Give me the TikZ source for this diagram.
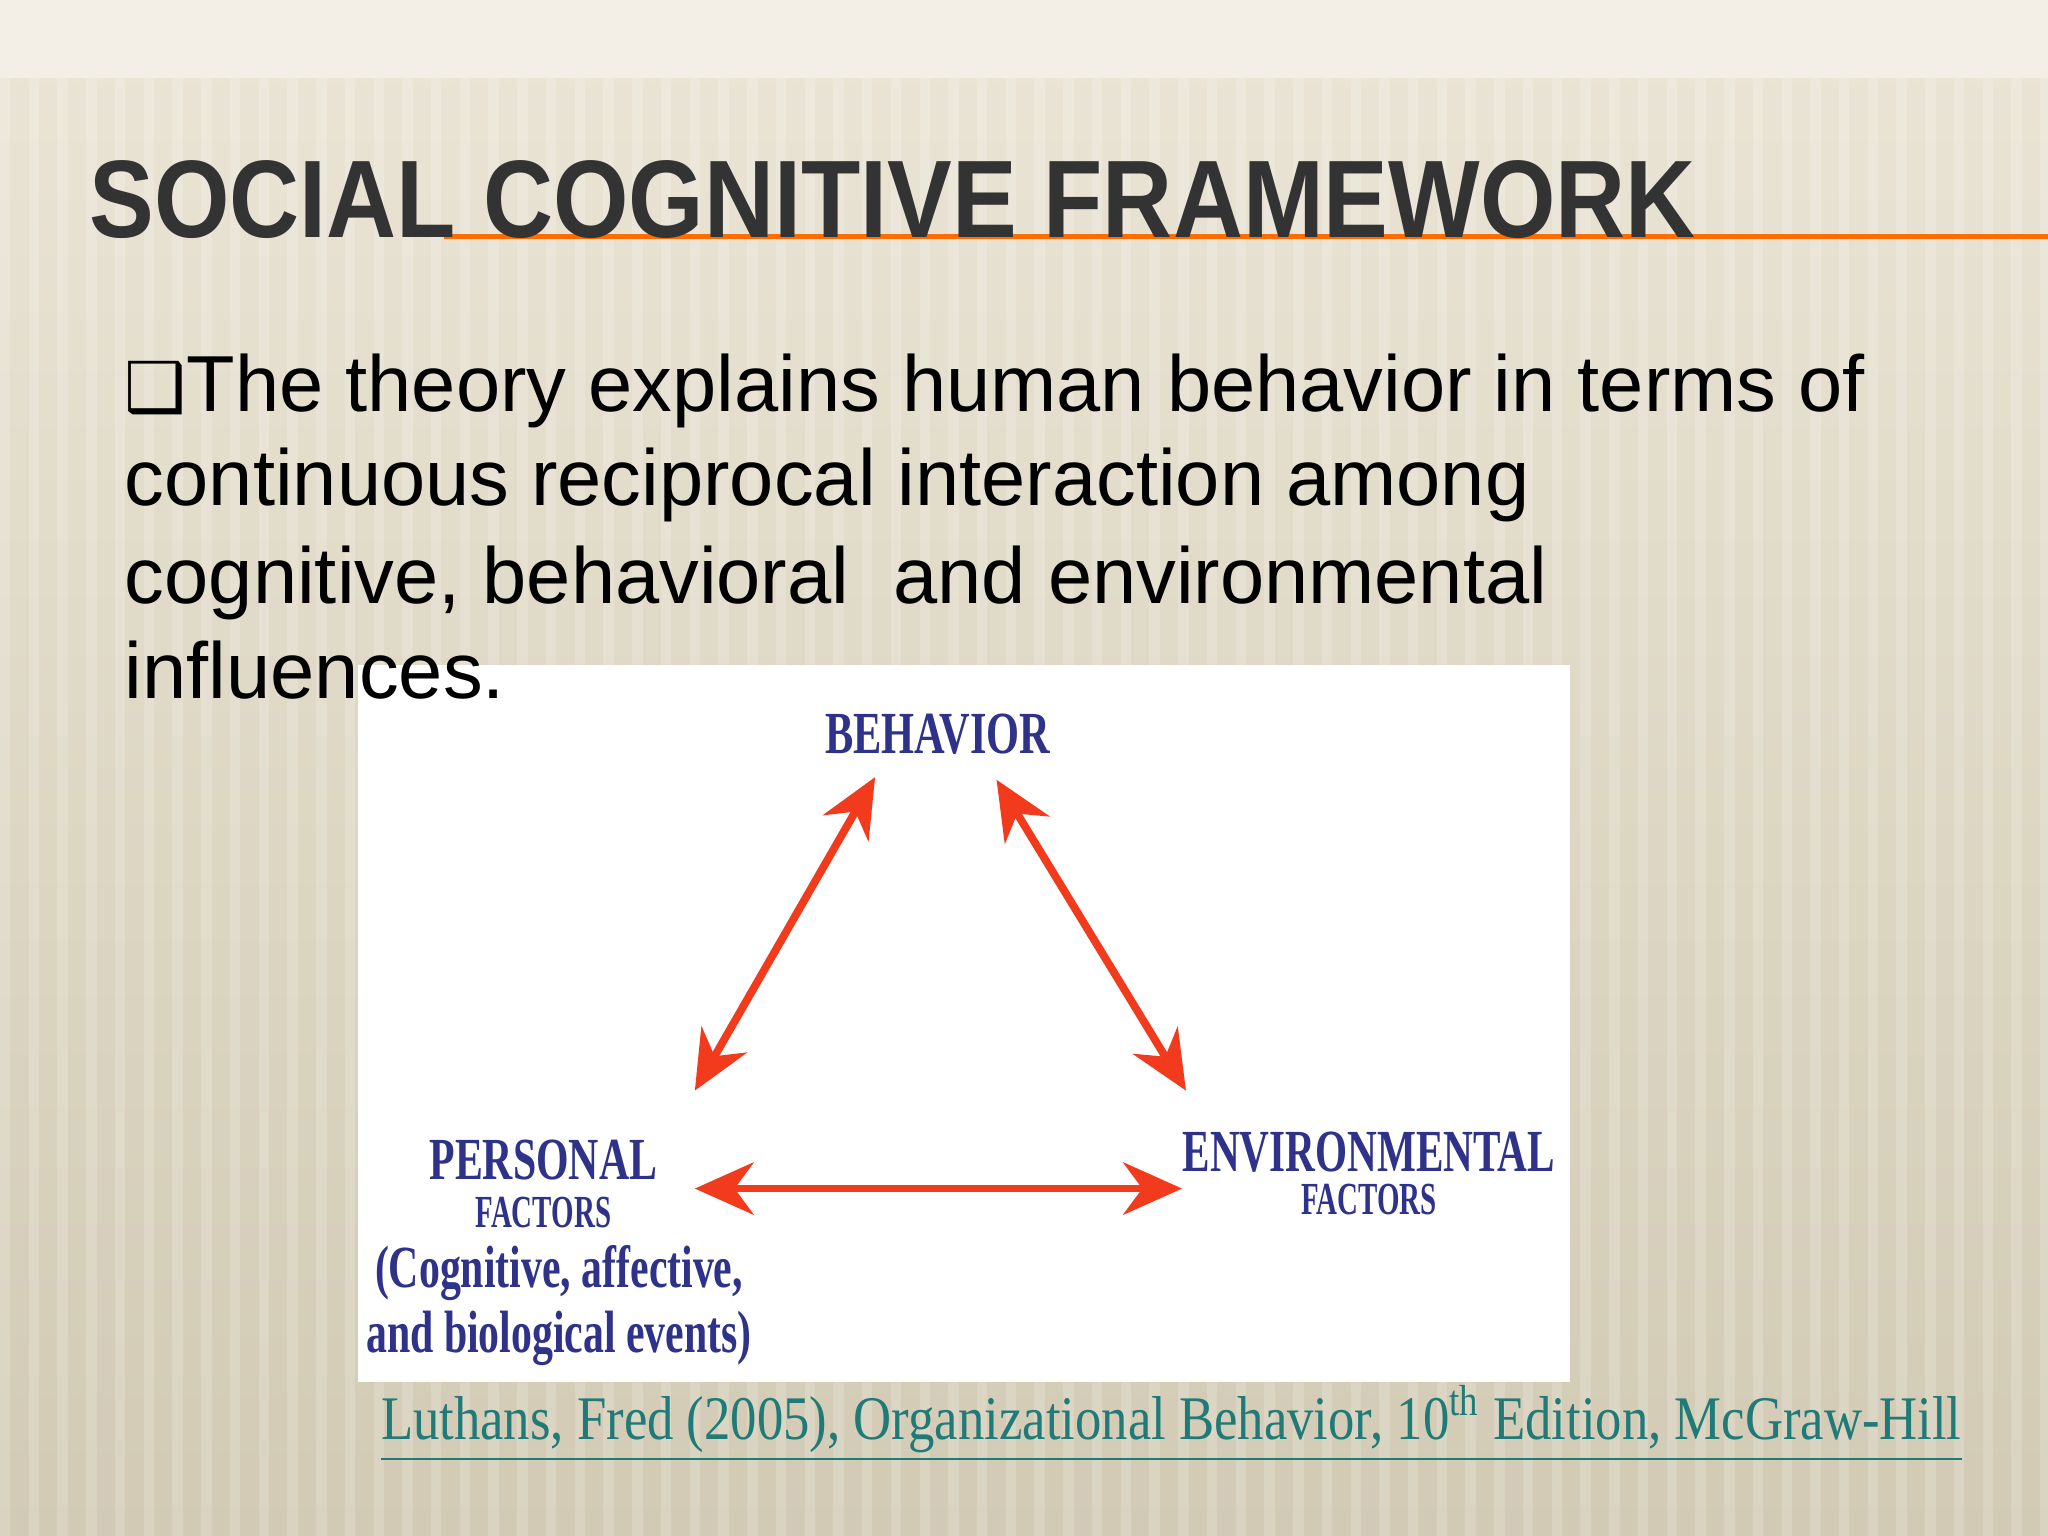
\documentclass[tikz,border=0pt]{standalone}
\usepackage{fontspec}
\setmainfont{Liberation Sans}
\newfontfamily\dejavu{DejaVu Sans}
\newfontfamily\serifb{Liberation Serif}
\usetikzlibrary{arrows.meta}
\definecolor{bgA}{HTML}{EAE5D6}
\definecolor{bgB}{HTML}{D2CAB4}
\definecolor{lbl}{HTML}{2E3289}
\definecolor{arr}{HTML}{F23A1C}
\definecolor{cite}{HTML}{1F7A78}
\tikzset{
 lab/.style={text=lbl, inner sep=0pt},
 bodyline/.style={anchor=base west, inner sep=0pt, font=\fontsize{17.3}{20.8}\selectfont},
 dbl/.style={draw=arr, line width=0.06cm, {Stealth[length=0.45cm,width=0.4cm]}-{Stealth[length=0.45cm,width=0.4cm]}}
}
\begin{document}
\begin{tikzpicture}[x=0.01cm,y=-0.01cm]
\useasboundingbox (0,0) rectangle (1568,1176);
\shade[top color=bgA, bottom color=bgB] (0,0) rectangle (1568,1176);
\fill[bgA!60!white] (0,0) rectangle (1568,60);
\foreach \i in {0,22,...,1568} \fill[white,opacity=0.18] (\i,60) rectangle ++(8,1116);
\draw[orange!85!red, line width=1pt] (340,181) -- (1568,181);
\node[anchor=base west, inner sep=0pt, text=black!80, font=\fontsize{24}{28}\selectfont\bfseries] (title) at (68,182) {\scalebox{0.88}[1]{SOCIAL COGNITIVE FRAMEWORK}};
\node[bodyline] (l1) at (95,315) {{\dejavu\fontsize{15}{20.8}\selectfont ❑}The theory explains human behavior in terms of};
\node[bodyline] (l2) at (95,387) {continuous reciprocal interaction among};
\node[bodyline] (l3) at (95,462) {cognitive, behavioral\ \ and environmental};
\fill[white] (274,509) rectangle (1202,1058);
\node[bodyline] (l4) at (95,535) {influences.};
\node[lab, font=\serifb\bfseries\fontsize{13}{14}\selectfont] (beh) at (718,562) {\scalebox{0.71}[1]{BEHAVIOR}};
\node[lab, font=\serifb\bfseries\fontsize{13}{14}\selectfont] (per) at (416,888) {\scalebox{0.7}[1]{PERSONAL}};
\node[lab, font=\serifb\bfseries\fontsize{10}{12}\selectfont] (perf) at (416,928) {\scalebox{0.63}[1]{FACTORS}};
\node[lab, font=\serifb\bfseries\fontsize{13}{14}\selectfont] (c1) at (428,975) {\scalebox{0.7}[1]{(Cognitive, affective,}};
\node[lab, font=\serifb\bfseries\fontsize{13}{14}\selectfont] (c2) at (428,1025) {\scalebox{0.7}[1]{and biological events)}};
\node[lab, font=\serifb\bfseries\fontsize{13}{14}\selectfont] (env) at (1048,882) {\scalebox{0.69}[1]{ENVIRONMENTAL}};
\node[lab, font=\serifb\bfseries\fontsize{10}{12}\selectfont] (envf) at (1048,918) {\scalebox{0.63}[1]{FACTORS}};
\coordinate (a1) at (670,595); \coordinate (a2) at (532,835);
\coordinate (b1) at (763,597); \coordinate (b2) at (908,835);
\coordinate (p1) at (532,910); \coordinate (p2) at (905,910);
\draw[dbl] (a1) -- (a2);
\draw[dbl] (b1) -- (b2);
\draw[dbl] (p1) -- (p2);
\node[anchor=base west, inner sep=0pt, text=cite, font=\serifb\fontsize{13.5}{16}\selectfont] (cit) at (291,1102)
 {\underline{\scalebox{0.85}[1]{Luthans, Fred (2005), Organizational Behavior, 10\textsuperscript{th} Edition, McGraw-Hill}}};
\end{tikzpicture}
\end{document}
